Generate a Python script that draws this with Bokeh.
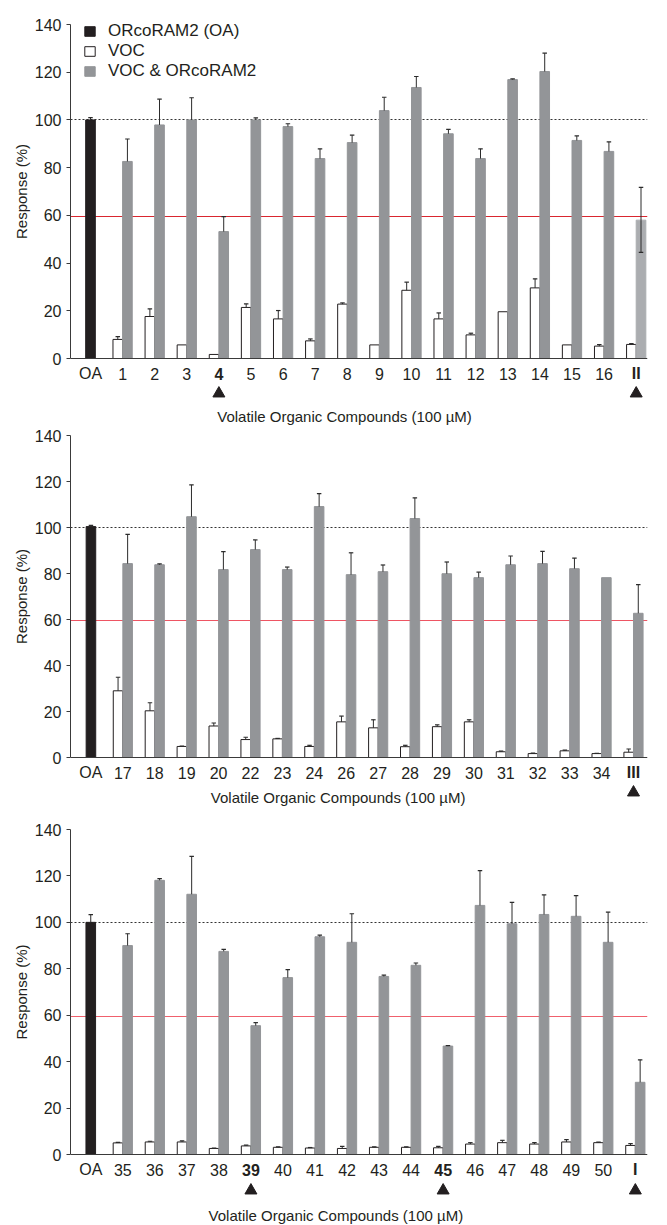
import numpy as np
from bokeh.plotting import figure
from bokeh.models import ColumnDataSource, FixedTicker, Legend, LegendItem, Title
from bokeh.layouts import column
from bokeh.core.properties import value
from bokeh.embed import file_html
from bokeh.resources import INLINE

# ---------------- data ----------------
series_names = ["ORcoRAM2 (OA)", "VOC", "VOC & ORcoRAM2"]
x_title = "Volatile Organic Compounds (100 µM)"
y_title = "Response (%)"
y_ticks = [0, 20, 40, 60, 80, 100, 120, 140]
threshold = 59.5
reference = 100

# panel 1
oa1, oa1_err = 100.0, 1.0
cats1 = ["1", "2", "3", "4", "5", "6", "7", "8", "9", "10", "11", "12", "13", "14", "15", "16", "II"]
voc1 = [8.0, 17.6, 5.7, 1.7, 21.4, 16.6, 7.4, 22.8, 5.7, 28.6, 16.6, 9.9, 19.6, 29.6, 5.7, 5.2, 5.9]
voc1_err = [1.2, 3.2, 0, 0, 1.5, 3.5, 0.8, 0.5, 0, 3.4, 2.5, 0.7, 0, 3.8, 0, 0.6, 0.3]
mix1 = [82.6, 97.9, 100.0, 53.2, 100.0, 97.2, 83.8, 90.5, 103.9, 113.6, 94.2, 83.8, 116.9, 120.3, 91.4, 86.8, 58.0]
mix1_err = [9.4, 10.8, 9.3, 6.3, 0.9, 1.2, 4.1, 3.1, 5.6, 4.6, 1.8, 4.1, 0.3, 7.7, 1.9, 4.0, 13.7]
mix1_err_low = [0, 0, 0, 0, 0, 0, 0, 0, 0, 0, 0, 0, 0, 0, 0, 0, 13.5]
bold1 = ["4", "II"]
arrows1 = ["4", "II"]
faded1 = ["II"]

# panel 2
oa2, oa2_err = 100.4, 0.5
cats2 = ["17", "18", "19", "20", "22", "23", "24", "26", "27", "28", "29", "30", "31", "32", "33", "34", "III"]
voc2 = [29.0, 20.3, 4.8, 13.7, 7.8, 8.1, 4.8, 15.5, 12.9, 4.7, 13.4, 15.5, 2.5, 1.7, 2.9, 1.7, 2.3]
voc2_err = [5.9, 3.5, 0.2, 1.3, 1.0, 0.2, 0.5, 2.5, 3.5, 0.6, 0.8, 0.9, 0.3, 0.2, 0.3, 0.1, 1.4]
mix2 = [84.3, 83.8, 104.7, 81.7, 90.4, 81.7, 109.1, 79.5, 80.8, 103.9, 79.9, 78.2, 83.8, 84.3, 82.1, 78.2, 62.7]
mix2_err = [12.7, 0.4, 13.8, 7.8, 4.2, 1.1, 5.6, 9.5, 2.9, 9.0, 5.1, 2.4, 3.8, 5.3, 4.6, 0, 12.5]
bold2 = ["III"]
arrows2 = ["III"]

# panel 3
oa3, oa3_err = 100.0, 3.3
cats3 = ["35", "36", "37", "38", "39", "40", "41", "42", "43", "44", "45", "46", "47", "48", "49", "50", "I"]
voc3 = [5.0, 5.4, 5.4, 2.6, 3.7, 3.1, 2.8, 2.6, 3.1, 3.1, 2.9, 4.5, 5.1, 4.5, 5.4, 5.1, 3.9]
voc3_err = [0.2, 0.3, 0.5, 0.2, 0.3, 0.2, 0.2, 0.9, 0.2, 0.2, 0.6, 0.6, 1.0, 0.6, 1.0, 0.2, 0.8]
mix3 = [90.0, 118.1, 112.1, 87.5, 55.5, 76.2, 93.8, 91.4, 76.7, 81.5, 46.7, 107.3, 99.4, 103.4, 102.6, 91.4, 31.1]
mix3_err = [5.1, 0.7, 16.3, 0.9, 1.3, 3.4, 0.7, 12.3, 0.6, 1.0, 0.2, 15.0, 9.2, 8.4, 8.9, 13.0, 9.7]
bold3 = ["39", "45", "I"]
arrows3 = ["39", "45", "I"]

# ---------------- styles ----------------
FONT = "Liberation Sans"
BLACK = "#231f20"
GREY = "#939598"
FADED = "#abadb0"
AXIS = "#3a3a3a"
ERR = "#2b2b2b"
BW = 0.3
CAP = 0.07


def make_panel(cats, voc, voc_err, mix, mix_err, oa, oa_err, bold, arrows,
               width, height, left, right, top, pad, zero, unit_px,
               label_px, arrow_px, title_px, red, mix_err_low=None, faded=(), legend=False):
    frame_w = width - left - right
    ppu = (zero - top) / 140.0
    y_start = -(height - zero) / ppu
    y_end = 140 + (top - pad) / ppu
    x_start = -(90 - left) / unit_px
    x_end = x_start + frame_w / unit_px
    p = figure(width=width, height=height, x_range=(x_start, x_end), y_range=(y_start, y_end),
               output_backend="svg", toolbar_location=None, x_axis_location=None,
               min_border_left=left, min_border_right=right,
               min_border_top=pad, min_border_bottom=0)
    p.outline_line_color = None
    p.xgrid.visible = False
    p.ygrid.visible = False

    n = len(cats)
    idx = np.arange(1, n + 1)
    labels = ["OA"] + cats

    # reference lines
    p.hspan(y=[reference], line_color="#333333", line_dash="2 2", line_width=1, level="underlay")
    p.hspan(y=[threshold], line_color=red, line_width=1.2, level="underlay")

    # bars
    oa_src = ColumnDataSource(dict(x=[0], top=[oa]))
    r_oa = p.vbar(x="x", top="top", width=BW, source=oa_src, fill_color=BLACK, line_color=BLACK)
    voc_src = ColumnDataSource(dict(x=idx - BW / 2, top=voc))
    r_voc = p.vbar(x="x", top="top", width=BW, source=voc_src, fill_color="white",
                   line_color=BLACK, line_width=1)
    colors = [FADED if c in faded else GREY for c in cats]
    mix_src = ColumnDataSource(dict(x=idx + BW / 2, top=mix, color=colors))
    r_mix = p.vbar(x="x", top="top", width=BW, source=mix_src, fill_color="color",
                   line_color="color")

    # x axis line
    p.hspan(y=[0], line_color=AXIS, line_width=1.2)

    # error bars (upper)
    ex, ey0, ey1 = [0.0], [oa], [oa + oa_err]
    for i in range(n):
        if voc_err[i] > 0:
            ex.append(idx[i] - BW / 2); ey0.append(voc[i]); ey1.append(voc[i] + voc_err[i])
        if mix_err[i] > 0:
            ex.append(idx[i] + BW / 2); ey0.append(mix[i]); ey1.append(mix[i] + mix_err[i])
    ex = np.array(ex)
    p.segment(x0=ex, y0=ey0, x1=ex, y1=ey1, line_color=ERR, line_width=1)
    p.segment(x0=ex - CAP, y0=ey1, x1=ex + CAP, y1=ey1, line_color=ERR, line_width=1.2)
    if mix_err_low is not None:
        sel = [i for i in range(n) if mix_err_low[i] > 0]
        lx = np.array([idx[i] + BW / 2 for i in sel])
        ly0 = [mix[i] for i in sel]
        ly1 = [mix[i] - mix_err_low[i] for i in sel]
        p.segment(x0=lx, y0=ly0, x1=lx, y1=ly1, line_color=ERR, line_width=1)
        p.segment(x0=lx - CAP, y0=ly1, x1=lx + CAP, y1=ly1, line_color=ERR, line_width=1.2)

    # y axis
    ya = p.yaxis[0]
    ya.ticker = FixedTicker(ticks=y_ticks)
    ya.bounds = (0, 140)
    ya.minor_tick_line_color = None
    ya.major_tick_out = 4
    ya.major_tick_in = 0
    ya.major_label_standoff = 5
    ya.axis_line_color = AXIS
    ya.major_tick_line_color = AXIS
    ya.major_label_text_font = FONT
    ya.major_label_text_font_size = "16px"
    ya.major_label_text_color = BLACK
    # y axis title, centred on the 0-140 part of the axis
    text_len = 95
    y_center = (top + zero) / 2.0
    p.add_layout(Title(text=y_title, align="right", offset=y_center - text_len / 2 - pad,
                       text_font=FONT, text_font_size="15px", text_font_style="normal",
                       text_color=BLACK, standoff=4), "left")

    # category labels under the x axis line
    styles = ["bold" if lab in bold else "normal" for lab in labels]
    lsrc = ColumnDataSource(dict(x=list(range(n + 1)), y=[-label_px / ppu] * (n + 1),
                                 t=labels, s=styles))
    p.text(x="x", y="y", text="t", source=lsrc, text_align="center", text_baseline="middle",
           text_font=value(FONT), text_font_size=value("16px"), text_font_style="s",
           text_color=BLACK)
    # arrow markers
    ax_ = [i for i, lab in enumerate(labels) if lab in arrows]
    p.scatter(x=ax_, y=[-arrow_px / ppu] * len(ax_), marker="triangle", size=12,
              fill_color=BLACK, line_color=BLACK)
    # x axis title
    p.text(x=[(344 - 90) / unit_px], y=[-title_px / ppu], text=[x_title], text_align="center",
           text_baseline="middle", text_font=value(FONT), text_font_size=value("15px"),
           text_color=BLACK)

    if legend:
        lg = Legend(items=[LegendItem(label=series_names[0], renderers=[r_oa]),
                           LegendItem(label=series_names[1], renderers=[r_voc]),
                           LegendItem(label=series_names[2], renderers=[r_mix])],
                    location=(13, height - 81), glyph_width=13, glyph_height=12, label_height=20,
                    label_standoff=12, spacing=0, padding=0, margin=0,
                    border_line_color=None, background_fill_alpha=0,
                    label_text_font=FONT, label_text_font_size="17px", label_text_color=BLACK)
        p.add_layout(lg)
    return p


p1 = make_panel(cats1, voc1, voc1_err, mix1, mix1_err, oa1, oa1_err, bold1, arrows1,
                width=667, height=428, left=70, right=20, top=24, pad=8, zero=358, unit_px=32.1,
                label_px=15, arrow_px=35, title_px=58, red="#d9262f",
                mix_err_low=mix1_err_low, faded=faded1, legend=True)
p2 = make_panel(cats2, voc2, voc2_err, mix2, mix2_err, oa2, oa2_err, bold2, arrows2,
                width=667, height=380, left=69, right=5, top=7, pad=2, zero=329, unit_px=32.8,
                label_px=15, arrow_px=35, title_px=40, red="#ee5563")
p3 = make_panel(cats3, voc3, voc3_err, mix3, mix3_err, oa3, oa3_err, bold3, arrows3,
                width=667, height=417, left=69, right=0, top=21, pad=6, zero=346, unit_px=33.2,
                label_px=15, arrow_px=36, title_px=61, red="#f0606c")

layout = column(p1, p2, p3, spacing=0)
open("out.html", "w").write(file_html(layout, INLINE))
